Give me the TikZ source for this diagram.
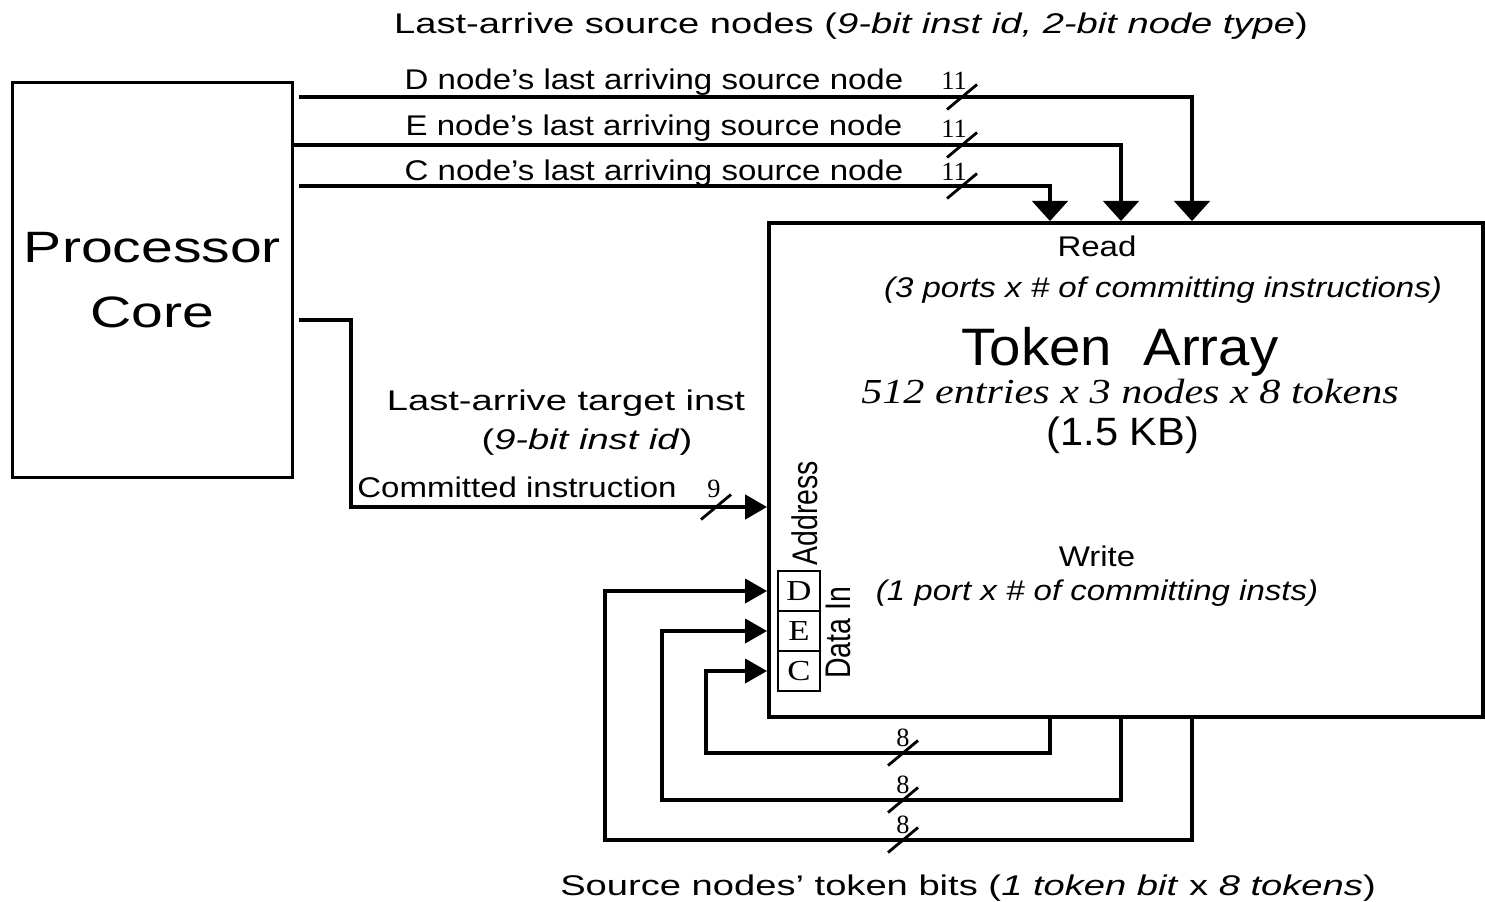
\documentclass[tikz,border=0pt]{standalone}
\usepackage{fontspec}
\usepackage{graphicx}
\setmainfont{Liberation Sans}
\newfontfamily\serif{Liberation Serif}
\usetikzlibrary{arrows.meta,calc}

% horizontal widening used by the labels
\newcommand\sx[1]{\scalebox{1.16}[1]{#1}}
\newcommand\wx[1]{\scalebox{1.34}[1]{#1}}
% bus-width tick: x, y, label, label x-offset, label y-offset
\newcommand\wmark[5]{%
  \draw[slash] ({#1-15},{#2+12.5}) -- ({#1+15},{#2-12.5});
  \node[numlbl] at ({#1+#4},{#2-#5}) {#3};}

\tikzset{
  blk/.style={draw, line width=1.7pt, inner sep=0pt},
  arrbox/.style={draw, line width=2.2pt, inner sep=0pt},
  cell/.style={draw, line width=0.8pt, minimum width=0.84cm, minimum height=0.8cm,
    inner sep=0pt, font=\serif\fontsize{16.5}{17}\selectfont},
  bus/.style={line width=2.8pt},
  fb/.style={line width=2.4pt},
  slash/.style={line width=1.6pt},
  txt/.style={font=\fontsize{16.2}{19}\selectfont, inner sep=0pt, anchor=base},
  rot/.style={font=\fontsize{16.2}{19}\selectfont, inner sep=0pt, rotate=90},
  numlbl/.style={font=\serif\fontsize{15}{16}\selectfont, inner sep=0pt, anchor=base},
  downtip/.style={-{Triangle[width=20pt,length=11.5pt]}},
  sidetip/.style={-{Triangle[width=13.5pt,length=12.5pt]}},
  gap/.style={shorten <=0.1cm},
}

\begin{document}
\begin{tikzpicture}[x=0.02cm,y=-0.02cm]
\useasboundingbox (0,0) rectangle (1485,902);

% blocks
\node[blk, minimum width=5.62cm, minimum height=7.92cm, align=center,
      font=\fontsize{25}{37}\selectfont] (core) at (152.5,280)
      {\scalebox{1.3}[1]{Processor}\\\scalebox{1.3}[1]{Core}};
\node[arrbox, minimum width=14.28cm, minimum height=9.88cm] (arr) at (1126,470) {};
\node[cell] (cD) at (799,591) {\scalebox{1.2}[1]{D}};
\node[cell] (cE) at (799,631) {\scalebox{1.2}[1]{E}};
\node[cell] (cC) at (799,671) {\scalebox{1.2}[1]{C}};

% texts
\node[txt] (title) at (851,34) {\wx{Last-arrive source nodes (\textit{9-bit inst id, 2-bit node type})}};
\node[txt] (lD) at (654,90) {\sx{D node’s last arriving source node}};
\node[txt] (lE) at (654,136) {\sx{E node’s last arriving source node}};
\node[txt] (lC) at (654,181) {\sx{C node’s last arriving source node}};
\node[txt] (rd) at (1097,257) {\sx{Read}};
\node[txt] (rdp) at (1163,297) {\sx{\textit{(3 ports x \# of committing instructions)}}};
\node[txt, font=\fontsize{30}{32}\selectfont] (ta) at (1120,365) {\scalebox{1.07}[1]{Token\ \ Array}};
\node[txt, font=\serif\itshape\fontsize{20}{22}\selectfont] (ent) at (1130,403)
      {\scalebox{1.2}[1]{512 entries x 3 nodes x 8 tokens}};
\node[txt, font=\fontsize{22.5}{24}\selectfont] (kb) at (1123,445) {\scalebox{1.05}[1]{(1.5 KB)}};
\node[txt] (wr) at (1097,566) {\sx{Write}};
\node[txt] (wrp) at (1097,600) {\sx{\textit{(1 port x \# of committing insts)}}};
\node[txt] (tgt) at (566,410) {\wx{Last-arrive target inst}};
\node[txt] (tgtp) at (587,449) {\wx{(\textit{9-bit inst id})}};
\node[txt] (cmt) at (517,497) {\sx{Committed instruction}};
\node[txt] (src) at (968,895) {\wx{Source nodes’ token bits (\textit{1 token bit} x \textit{8 tokens})}};
\node[rot] (addr) at (805,513) {\scalebox{1}[1.25]{Address}};
\node[rot] (din) at (838,633) {\scalebox{1}[1.25]{Data In}};

% routing coordinates
\coordinate (colC) at (1050,0);
\coordinate (colE) at (1121,0);
\coordinate (colD) at (1192,0);
\coordinate (cmtTurn) at (351,507);
\coordinate (lpD) at (605,840);
\coordinate (lpE) at (662,800);
\coordinate (lpC) at (706,753);

% read buses
\draw[bus, gap, downtip] (core.east |- 0,97) -| (colD |- arr.north);
\draw[bus, downtip] (core.east |- 0,145) -| (colE |- arr.north);
\draw[bus, gap, downtip] (core.east |- 0,186) -| (colC |- arr.north);
\wmark{962}{97}{11}{-8}{7}
\wmark{962}{145}{11}{-8}{7}
\wmark{962}{186}{11}{-8}{5}

% address bus
\draw[bus, gap, sidetip] (core.east |- 0,320) -| (cmtTurn) -- (cmtTurn -| arr.west);
\wmark{716}{507}{9}{-2}{10}

% token bits fed back into the data inputs
\draw[fb, sidetip] (colD |- arr.south) |- (lpD) |- (arr.west |- cD);
\draw[fb, sidetip] (colE |- arr.south) |- (lpE) |- (arr.west |- cE);
\draw[fb, sidetip] (colC |- arr.south) |- (lpC) |- (arr.west |- cC);
\wmark{903}{840}{8}{0}{7}
\wmark{903}{800}{8}{0}{7}
\wmark{903}{753}{8}{0}{7}
\end{tikzpicture}
\end{document}
